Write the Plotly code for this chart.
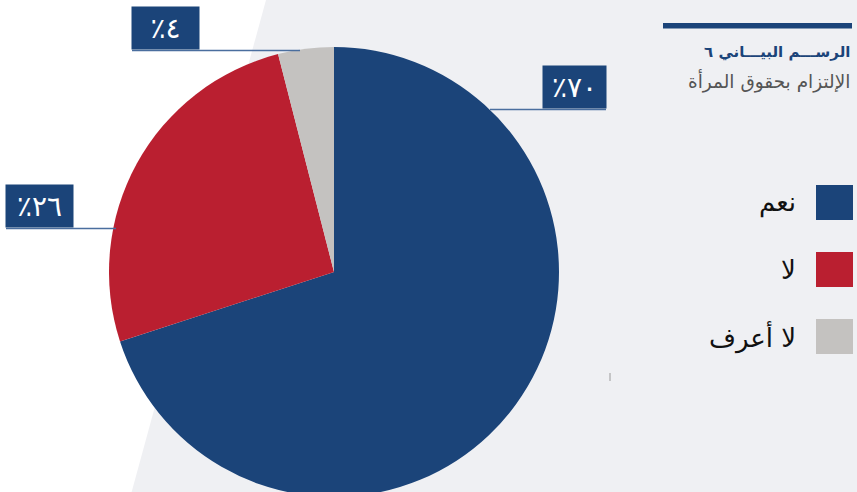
import plotly.graph_objects as go

# ---- data ----
categories = ["نعم", "لا", "لا أعرف"]
values = [70, 26, 4]
colors = ["#1b4479", "#ba1f30", "#c4c2c0"]
title_main = "الرســـم البيـــاني ٦"
title_sub = "الإلتزام بحقوق المرأة"

W, H = 857, 498
NAVY = "#1b4479"
FONT = "DejaVu Sans"


def px(x):
    return x / W


def py(y):
    return 1 - y / H


def arabic_digits(n):
    return str(n).translate(str.maketrans("0123456789", "٠١٢٣٤٥٦٧٨٩"))


fig = go.Figure()

# pie centred at (334, 272) px with radius 225 px
cx, cy, r = 334, 272, 225
fig.add_trace(go.Pie(
    labels=categories,
    values=values,
    marker=dict(colors=colors, line=dict(width=0)),
    sort=False,
    direction="clockwise",
    rotation=0,
    textinfo="none",
    hoverinfo="label+percent",
    showlegend=False,
    domain=dict(x=[px(cx - r), px(cx + r)], y=[py(cy + r), py(cy - r)]),
))

shapes = []
annotations = []

# light diagonal panel behind the chart
shapes.append(dict(
    type="path", xref="paper", yref="paper", layer="below",
    path=f"M {px(266)} {py(0)} L 1 {py(0)} L 1 0 L {px(130)} 0 Z",
    fillcolor="#eff0f3", line=dict(width=0),
))

# value labels: box (x0, y0, x1, y1) and leader line end on the pie edge
label_boxes = [
    (543, 66, 606, 108, 490),   # نعم
    (6, 185, 73, 227, 116),     # لا
    (132, 7, 199, 49, 300),     # لا أعرف
]
for v, (x0, y0, x1, y1, lx) in zip(values, label_boxes):
    ly = y1 + 1.5
    shapes.append(dict(
        type="line", xref="paper", yref="paper",
        x0=px(min(x0, lx)), x1=px(max(x1, lx)), y0=py(ly), y1=py(ly),
        line=dict(color="#4a6e9e", width=1.5),
    ))
    annotations.append(dict(
        xref="paper", yref="paper", x=px((x0 + x1) / 2), y=py((y0 + y1) / 2),
        xanchor="center", yanchor="middle", showarrow=False,
        text="٪" + arabic_digits(v),
        font=dict(family=FONT, size=28, color="white"),
        bgcolor=NAVY, width=x1 - x0, height=y1 - y0, borderpad=0,
    ))

# heading rule and titles
shapes.append(dict(
    type="rect", xref="paper", yref="paper",
    x0=px(663), x1=px(852), y0=py(23), y1=py(28.5),
    fillcolor=NAVY, line=dict(width=0),
))
annotations.append(dict(
    xref="paper", yref="paper", x=px(852), y=py(52), xanchor="right", yanchor="middle",
    showarrow=False, text=f"<b>{title_main}</b>",
    font=dict(family=FONT, size=15, color=NAVY),
))
annotations.append(dict(
    xref="paper", yref="paper", x=px(852), y=py(81), xanchor="right", yanchor="middle",
    showarrow=False, text=title_sub,
    font=dict(family=FONT, size=18.5, color="#555555"),
))

# legend: square swatches with labels to their left
legend_tops = [185, 252, 319]
for name, col, top in zip(categories, colors, legend_tops):
    shapes.append(dict(
        type="rect", xref="paper", yref="paper",
        x0=px(816), x1=px(853), y0=py(top), y1=py(top + 35),
        fillcolor=col, line=dict(width=0),
    ))
    annotations.append(dict(
        xref="paper", yref="paper", x=px(798), y=py(top + 18),
        xanchor="right", yanchor="middle", showarrow=False, text=name,
        font=dict(family=FONT, size=26, color="#111111"),
    ))

# small tick mark at the panel edge
shapes.append(dict(
    type="line", xref="paper", yref="paper",
    x0=px(610), x1=px(610), y0=py(373), y1=py(381),
    line=dict(color="#9a9a9a", width=1),
))

fig.update_layout(
    width=W, height=H,
    margin=dict(l=0, r=0, t=0, b=0),
    paper_bgcolor="white",
    plot_bgcolor="white",
    shapes=shapes,
    annotations=annotations,
)

fig.write_html("out.html")
